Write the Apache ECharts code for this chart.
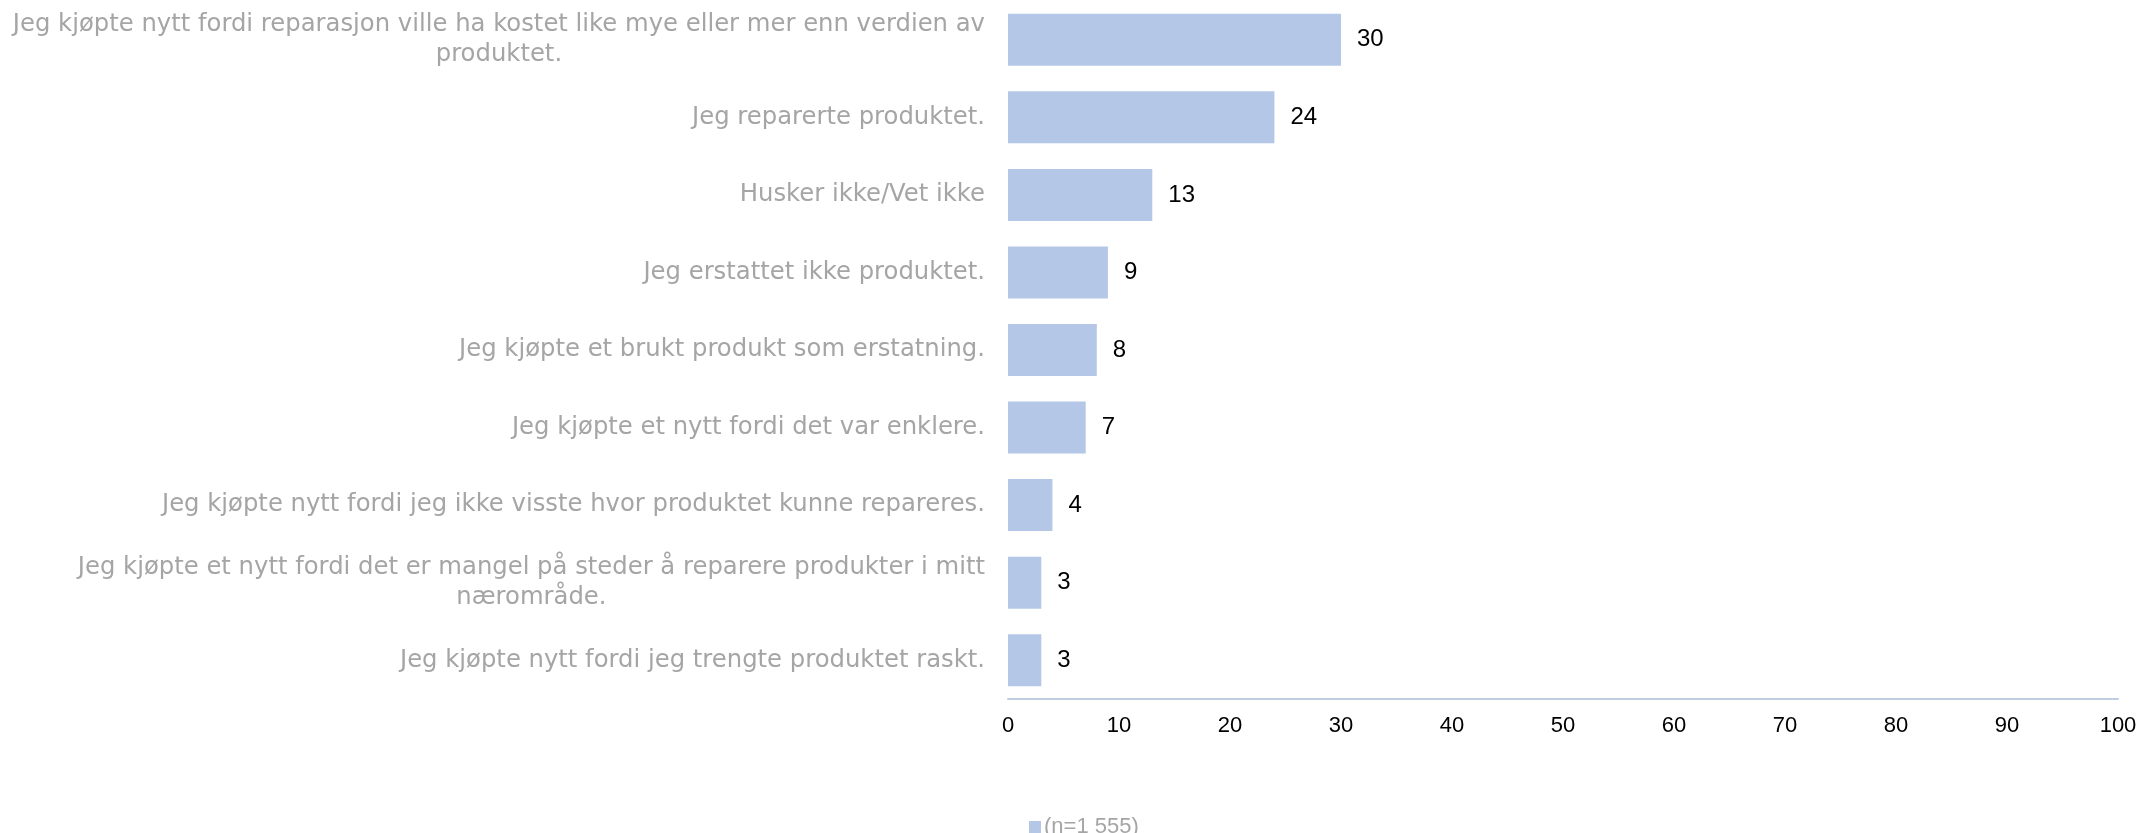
<!DOCTYPE html>
<html>
<head>
<meta charset="utf-8">
<script src="https://cdn.jsdelivr.net/npm/echarts@6/dist/echarts.min.js"></script>
<style>
html,body{margin:0;padding:0;background:#fff;}
#chart{width:2141px;height:833px;}
</style>
</head>
<body>
<div id="chart"></div>
<script>
const categories = [
  "Jeg kjøpte nytt fordi reparasjon ville ha kostet like mye eller mer enn verdien av\nproduktet.",
  "Jeg reparerte produktet.",
  "Husker ikke/Vet ikke",
  "Jeg erstattet ikke produktet.",
  "Jeg kjøpte et brukt produkt som erstatning.",
  "Jeg kjøpte et nytt fordi det var enklere.",
  "Jeg kjøpte nytt fordi jeg ikke visste hvor produktet kunne repareres.",
  "Jeg kjøpte et nytt fordi det er mangel på steder å reparere produkter i mitt\nnærområde.",
  "Jeg kjøpte nytt fordi jeg trengte produktet raskt."
];
const values = [30, 24, 13, 9, 8, 7, 4, 3, 3];
const seriesName = "(n=1 555)";
const xTicks = { min: 0, max: 100, interval: 10 };

const catFont = 'DejaVu Sans, sans-serif';
const numFont = 'Liberation Sans, Arial, sans-serif';

const chart = echarts.init(document.getElementById('chart'));
chart.setOption({
  animation: false,
  grid: { left: 1008, right: 23, top: 1, bottom: 134, containLabel: false },
  legend: {
    data: [seriesName],
    left: 1024, top: 811,
    itemWidth: 12, itemHeight: 12, itemGap: 10,
    icon: 'rect',
    textStyle: { color: '#a5a5a5', fontSize: 22, fontFamily: numFont, padding: [0, 0, 0, -2] }
  },
  xAxis: {
    type: 'value',
    min: xTicks.min, max: xTicks.max, interval: xTicks.interval,
    axisLine: { show: true, lineStyle: { color: '#bfcde2', width: 2 } },
    axisTick: { show: false },
    splitLine: { show: false },
    axisLabel: { color: '#000', fontSize: 22, margin: 16, fontFamily: numFont }
  },
  yAxis: {
    type: 'category',
    data: categories,
    inverse: true,
    axisLine: { show: false },
    axisTick: { show: false },
    axisLabel: {
      color: '#a5a5a5', fontSize: 24.3, lineHeight: 30, margin: 23, align: 'right',
      fontFamily: catFont,
      formatter: v => v.split('\n').map(l => '{c|' + l + '}').join('\n'),
      rich: {
        c: { align: 'center', color: '#a5a5a5', fontSize: 24.3, lineHeight: 30, fontFamily: catFont }
      }
    }
  },
  series: [{
    name: seriesName,
    type: 'bar',
    data: values,
    barWidth: 52,
    itemStyle: { color: '#b4c7e7' },
    label: {
      show: true, position: 'right', distance: 16,
      color: '#000', fontSize: 24, fontFamily: numFont
    }
  }]
});
</script>
</body>
</html>
